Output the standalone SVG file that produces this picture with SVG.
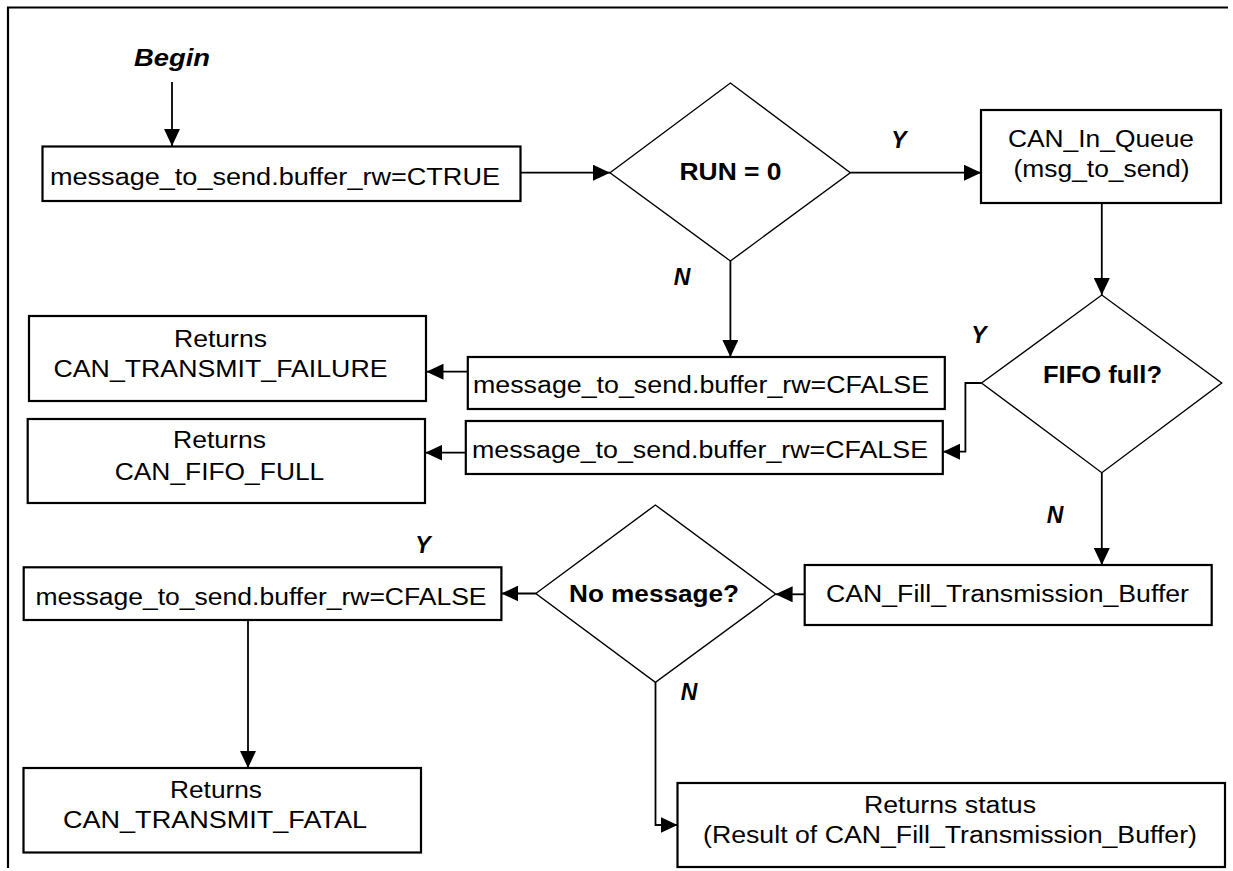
<svg xmlns="http://www.w3.org/2000/svg" width="1233" height="871" viewBox="0 0 1233 871">
<style>
  .box { fill: #fff; stroke: #000; stroke-width: 2.2; }
  .dia { fill: #fff; stroke: #000; stroke-width: 1.4; }
  .conn { fill: none; stroke: #000; stroke-width: 1.8; }
  .t { font-family: "Liberation Sans", Arial, sans-serif; font-size: 23px; fill: #000; text-anchor: middle; }
  .b { font-weight: bold; }
  .bi { font-weight: bold; font-style: italic; }
</style>
<defs>
  <marker id="ah" markerWidth="17" markerHeight="16" refX="17" refY="8" orient="auto" markerUnits="userSpaceOnUse">
    <path d="M0,0 L17,8 L0,16 z" fill="#000"/>
  </marker>
</defs>
<rect x="0" y="0" width="1233" height="871" fill="#fff"/>
<path d="M8,868 V7.5 H1228" fill="none" stroke="#000" stroke-width="2.2"/>

<g id="connectors">
  <path class="conn" d="M172,82 V146" marker-end="url(#ah)"/>
  <path class="conn" d="M520.4,172.7 H610" marker-end="url(#ah)"/>
  <path class="conn" d="M850.3,172.7 H981" marker-end="url(#ah)"/>
  <path class="conn" d="M1101.8,203 V295" marker-end="url(#ah)"/>
  <path class="conn" d="M730.4,261 V357" marker-end="url(#ah)"/>
  <path class="conn" d="M467.8,371.7 H426.5" marker-end="url(#ah)"/>
  <path class="conn" d="M981.5,383 H965.4 V451.7 H943" marker-end="url(#ah)"/>
  <path class="conn" d="M465.8,452.7 H425.3" marker-end="url(#ah)"/>
  <path class="conn" d="M1101.8,472.7 V565" marker-end="url(#ah)"/>
  <path class="conn" d="M804.7,594.3 H775.6" marker-end="url(#ah)"/>
  <path class="conn" d="M535.8,593.5 H501.4" marker-end="url(#ah)"/>
  <path class="conn" d="M248,620 V768" marker-end="url(#ah)"/>
  <path class="conn" d="M655.5,682.3 V825 H677.5" marker-end="url(#ah)"/>
</g>

<g id="begin">
  <text class="t bi" x="172" y="66" textLength="76" lengthAdjust="spacingAndGlyphs">Begin</text>
</g>

<g id="set-true">
  <rect class="box" x="42.5" y="146.5" width="478" height="54.5"/>
  <text class="t" x="275" y="185" textLength="450" lengthAdjust="spacingAndGlyphs">message_to_send.buffer_rw=CTRUE</text>
</g>

<g id="run-check">
  <polygon class="dia" points="610,172.7 730.4,83 850.3,172.7 730.4,261"/>
  <text class="t b" x="730.5" y="180" textLength="102" lengthAdjust="spacingAndGlyphs">RUN = 0</text>
  <text class="t bi" x="899" y="148">Y</text>
  <text class="t bi" x="682" y="285">N</text>
</g>

<g id="in-queue">
  <rect class="box" x="981" y="110" width="240" height="93"/>
  <text class="t" x="1101" y="147" textLength="186" lengthAdjust="spacingAndGlyphs">CAN_In_Queue</text>
  <text class="t" x="1101.5" y="177" textLength="176" lengthAdjust="spacingAndGlyphs">(msg_to_send)</text>
</g>

<g id="fifo-check">
  <polygon class="dia" points="981.5,383 1101.8,295 1221.7,383 1101.8,472.7"/>
  <text class="t b" x="1102.5" y="383" textLength="119" lengthAdjust="spacingAndGlyphs">FIFO full?</text>
  <text class="t bi" x="979" y="343">Y</text>
  <text class="t bi" x="1055" y="523">N</text>
</g>

<g id="set-false-a">
  <rect class="box" x="467.8" y="357" width="477" height="52"/>
  <text class="t" x="701" y="393" textLength="456" lengthAdjust="spacingAndGlyphs">message_to_send.buffer_rw=CFALSE</text>
</g>

<g id="ret-failure">
  <rect class="box" x="29" y="316" width="397" height="85"/>
  <text class="t" x="220.5" y="346.7" textLength="93" lengthAdjust="spacingAndGlyphs">Returns</text>
  <text class="t" x="220.5" y="376.7" textLength="334" lengthAdjust="spacingAndGlyphs">CAN_TRANSMIT_FAILURE</text>
</g>

<g id="set-false-b">
  <rect class="box" x="465.8" y="421" width="477" height="53"/>
  <text class="t" x="700" y="458" textLength="456" lengthAdjust="spacingAndGlyphs">message_to_send.buffer_rw=CFALSE</text>
</g>

<g id="ret-fifo-full">
  <rect class="box" x="27.7" y="419" width="397.3" height="84"/>
  <text class="t" x="219.5" y="448" textLength="93" lengthAdjust="spacingAndGlyphs">Returns</text>
  <text class="t" x="219.5" y="480" textLength="209.5" lengthAdjust="spacingAndGlyphs">CAN_FIFO_FULL</text>
</g>

<g id="fill-buffer">
  <rect class="box" x="804.7" y="565" width="407" height="60"/>
  <text class="t" x="1007.5" y="601.7" textLength="363" lengthAdjust="spacingAndGlyphs">CAN_Fill_Transmission_Buffer</text>
</g>

<g id="no-message-check">
  <polygon class="dia" points="535.8,593.5 655.4,505 775.6,594 655.4,682.3"/>
  <text class="t b" x="654" y="601.7" textLength="170" lengthAdjust="spacingAndGlyphs">No message?</text>
  <text class="t bi" x="423" y="553">Y</text>
  <text class="t bi" x="689" y="700">N</text>
</g>

<g id="set-false-c">
  <rect class="box" x="23.7" y="567.3" width="477.7" height="52.7"/>
  <text class="t" x="261" y="605" textLength="451" lengthAdjust="spacingAndGlyphs">message_to_send.buffer_rw=CFALSE</text>
</g>

<g id="ret-fatal">
  <rect class="box" x="23.5" y="768" width="397.5" height="84.5"/>
  <text class="t" x="216" y="798" textLength="92" lengthAdjust="spacingAndGlyphs">Returns</text>
  <text class="t" x="215" y="828" textLength="304" lengthAdjust="spacingAndGlyphs">CAN_TRANSMIT_FATAL</text>
</g>

<g id="ret-status">
  <rect class="box" x="677.5" y="783" width="547.5" height="84"/>
  <text class="t" x="950" y="813" textLength="172" lengthAdjust="spacingAndGlyphs">Returns status</text>
  <text class="t" x="950" y="843" textLength="494" lengthAdjust="spacingAndGlyphs">(Result of CAN_Fill_Transmission_Buffer)</text>
</g>
</svg>
